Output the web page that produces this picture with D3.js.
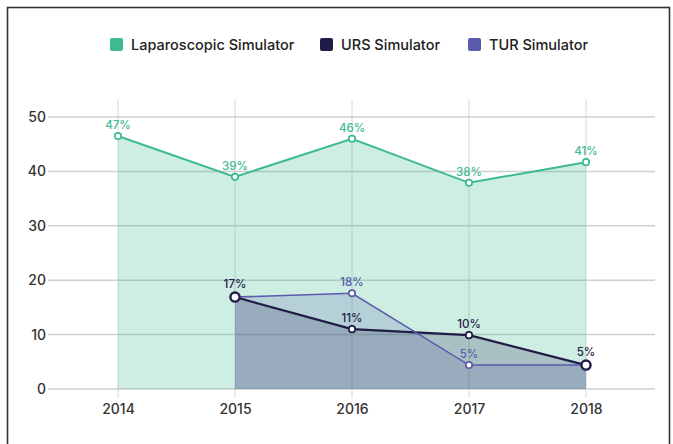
<!DOCTYPE html>
<html>
<head>
<meta charset="utf-8">
<script src="https://cdn.jsdelivr.net/npm/d3@7"></script>
<style>
  body { margin: 0; background: #fff; }
  text { font-family: Inter, "Open Sans", sans-serif; }
</style>
</head>
<body>
<script>

var width = 673;
var height = 444;

// data
var years = [2014, 2015, 2016, 2017, 2018];
var seriesNames = ["Laparoscopic Simulator", "URS Simulator", "TUR Simulator"];
var lapValues = [46.5, 39, 46, 37.9, 41.7];
var ursValues = [null, 16.9, 11, 9.9, 4.4];
var turValues = [null, 16.9, 17.6, 4.4, 4.4];
var lapLabels = ["47%", "39%", "46%", "38%", "41%"];
var ursLabels = [null, "17%", "11%", "10%", "5%"];
var turLabels = [null, null, "18%", "5%", null];
var yTicks = [0, 10, 20, 30, 40, 50];

var colors = ["#3dba8f", "#1f1d45", "#5b5aad"];

var svg = d3.select("body").append("svg")
  .attr("width", width)
  .attr("height", height);

// frame
svg.append("rect")
  .attr("x", 7.5).attr("y", 7.5)
  .attr("width", 662).attr("height", 460)
  .attr("fill", "none")
  .attr("stroke", "#333")
  .attr("stroke-width", 1.6);

var x = d3.scalePoint().domain(years).range([118, 586]);
var y = d3.scaleLinear().domain([0, 50]).range([389, 117]);

// grid
svg.append("g").selectAll("line").data(years).enter().append("line")
  .attr("x1", function(d){ return x(d); })
  .attr("x2", function(d){ return x(d); })
  .attr("y1", 100).attr("y2", 398)
  .attr("stroke", "#d6d6d6").attr("stroke-width", 1);

svg.append("g").selectAll("line").data(yTicks).enter().append("line")
  .attr("x1", 48).attr("x2", 655)
  .attr("y1", function(d){ return y(d); })
  .attr("y2", function(d){ return y(d); })
  .attr("stroke", "#cfcfcf").attr("stroke-width", 1.5);

// axis labels
var yAxis = svg.append("g")
  .attr("transform", "translate(46,0)")
  .call(d3.axisLeft(y).tickValues(yTicks).tickSize(0).tickPadding(0));
yAxis.select(".domain").remove();
yAxis.selectAll("text")
  .style("font-family", "Inter, sans-serif")
  .style("font-size", "14px")
  .style("font-weight", "500")
  .attr("fill", "#333");

var xAxis = svg.append("g")
  .attr("transform", "translate(0,404)")
  .call(d3.axisBottom(x).tickFormat(d3.format("d")).tickSize(0).tickPadding(0));
xAxis.select(".domain").remove();
xAxis.selectAll("text")
  .style("font-family", "Inter, sans-serif")
  .style("font-size", "14px")
  .style("font-weight", "500")
  .attr("fill", "#333");

var series = [
  { name: seriesNames[0], values: lapValues, labels: lapLabels, color: colors[0], fill: 0.25, width: 2 },
  { name: seriesNames[1], values: ursValues, labels: ursLabels, color: colors[1], fill: 0.21, width: 2.2 },
  { name: seriesNames[2], values: turValues, labels: turLabels, color: colors[2], fill: 0.2, width: 1.6 }
];

var area = d3.area()
  .defined(function(d){ return d[1] != null; })
  .x(function(d){ return x(d[0]); })
  .y0(y(0))
  .y1(function(d){ return y(d[1]); });

var line = d3.line()
  .defined(function(d){ return d[1] != null; })
  .x(function(d){ return x(d[0]); })
  .y(function(d){ return y(d[1]); });

series.forEach(function(s){
  var pts = years.map(function(yr, i){ return [yr, s.values[i]]; });
  svg.append("path").datum(pts)
    .attr("d", area)
    .attr("fill", s.color)
    .attr("fill-opacity", s.fill);
});

series.forEach(function(s){
  var pts = years.map(function(yr, i){ return [yr, s.values[i]]; });
  svg.append("path").datum(pts)
    .attr("d", line)
    .attr("fill", "none")
    .attr("stroke", s.color)
    .attr("stroke-width", s.width);
});

// markers: where URS and TUR meet, the URS ring is drawn larger
series.slice().reverse().forEach(function(s){
  var pts = years.map(function(yr, i){
      var shared = s.values === ursValues && ursValues[i] != null && ursValues[i] === turValues[i];
      return [yr, s.values[i], s.labels[i], shared];
    })
    .filter(function(d){ return d[1] != null; });
  svg.append("g").selectAll("circle").data(pts).enter().append("circle")
    .attr("cx", function(d){ return x(d[0]); })
    .attr("cy", function(d){ return y(d[1]); })
    .attr("r", function(d){ return d[3] ? 4.6 : 3.2; })
    .attr("fill", "#fff")
    .attr("stroke", s.color)
    .attr("stroke-width", function(d){ return d[3] ? 2.4 : 1.7; });
  svg.append("g").selectAll("text").data(pts.filter(function(d){ return d[2]; })).enter().append("text")
    .attr("x", function(d){ return x(d[0]); })
    .attr("y", function(d){ return y(d[1]) - (d[3] ? 9 : 7); })
    .attr("text-anchor", "middle")
    .attr("font-size", "11.5px")
    .attr("font-weight", "500")
    .attr("fill", s.color)
    .text(function(d){ return d[2]; });
});

// legend
var legendX = [110, 320, 468];
var legend = svg.append("g").selectAll("g").data(series).enter().append("g")
  .attr("transform", function(d, i){ return "translate(" + legendX[i] + ",38)"; });
legend.append("rect")
  .attr("width", 13).attr("height", 13)
  .attr("rx", 2)
  .attr("fill", function(d){ return d.color; });
legend.append("text")
  .attr("x", 21).attr("y", 12)
  .attr("font-size", "14.5px")
  .attr("font-weight", "500")
  .attr("fill", "#222")
  .text(function(d){ return d.name; });

</script>
</body>
</html>
